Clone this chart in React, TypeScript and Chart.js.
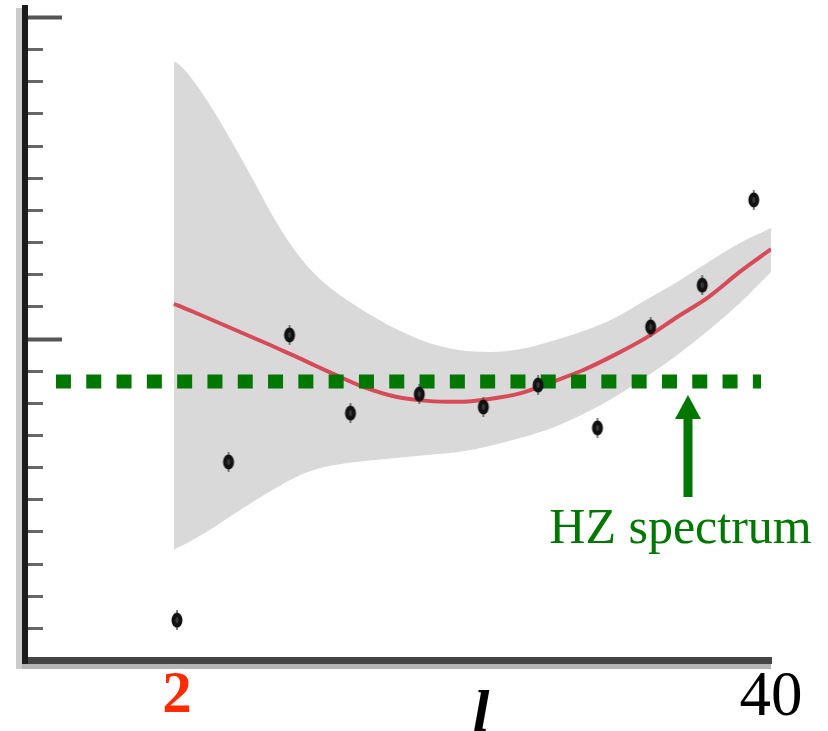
import React, { useEffect, useRef } from 'react';
import { Chart, registerables } from 'chart.js';

Chart.register(...registerables);

// multipole l positions where the band / fit curve were read
const bandL = [1.8, 2, 2.5, 3, 4, 5, 6, 7, 8, 9, 10, 11, 12, 14, 16, 18, 20, 22, 24, 26, 28, 30, 32, 34, 36, 38, 40];
// grey uncertainty band (upper / lower edge), in axis units
const bandUpper = [18.6, 18.57, 18.35, 18.05, 17.35, 16.55, 15.7, 14.82, 13.92, 13.12, 12.45, 11.92, 11.5, 10.85, 10.3, 9.88, 9.64, 9.58, 9.67, 9.92, 10.23, 10.64, 11.2, 11.76, 12.38, 12.97, 13.44];
const bandLower = [3.42, 3.48, 3.6, 3.73, 4.01, 4.33, 4.65, 4.96, 5.26, 5.54, 5.78, 5.95, 6.06, 6.19, 6.28, 6.38, 6.47, 6.66, 6.91, 7.22, 7.65, 8.18, 8.8, 9.49, 10.26, 11.1, 12.07];
// red best-fit curve
const fitCurve = [11.07, 11.04, 10.94, 10.84, 10.63, 10.42, 10.21, 10.0, 9.79, 9.57, 9.35, 9.12, 8.9, 8.48, 8.19, 8.06, 8.03, 8.12, 8.3, 8.65, 9.02, 9.49, 10.02, 10.67, 11.29, 12.07, 12.78];
// black data points
const obsL = [2, 5.3, 9.2, 13.1, 17.5, 21.6, 25.1, 28.9, 32.3, 35.6, 38.9];
const obsV = [1.24, 6.16, 10.11, 7.68, 8.27, 7.87, 8.55, 7.22, 10.36, 11.66, 14.31];
// green dotted HZ spectrum level
const hzL = [-5.74, 39.36];
const hzV = [8.66, 8.66];
// axes
const xTickValues = [2, 40];
const xTickLabels = ['2', '40'];
const yTickValues = [1, 2, 3, 4, 5, 6, 7, 8, 9, 10, 11, 12, 13, 14, 15, 16, 17, 18, 19, 20];
const yMajorTicks = [10, 20];
const xAxisTitle = 'l';
const hzLabel = 'HZ spectrum';
// annotation anchors (data units)
const arrowL = 34.69;
const arrowTipV = 8.24;
const arrowTailV = 5.07;
const hzTextL = 34.21;
const hzTextV = 3.64;
const titleL = 21.45;

const SERIF = '"Liberation Serif", "Times New Roman", serif';
const GREEN = '#007700';

export default function App() {
  const ref = useRef<HTMLCanvasElement>(null);

  useEffect(() => {
    const canvas = ref.current;
    if (!canvas) return;

    const dot = document.createElement('canvas');
    dot.width = 14;
    dot.height = 20;
    const d = dot.getContext('2d')!;
    d.fillStyle = 'rgba(80,80,80,0.7)';
    d.fillRect(6, 0, 2, 20);
    d.beginPath();
    d.ellipse(7, 10, 5.5, 7.5, 0, 0, Math.PI * 2);
    d.fillStyle = '#111';
    d.fill();
    d.beginPath();
    d.ellipse(7, 10, 1.6, 3, 0, 0, Math.PI * 2);
    d.fillStyle = '#3a3a3a';
    d.fill();

    const annot = {
      id: 'annot',
      beforeDraw(chart: any) {
        const { ctx, chartArea } = chart;
        ctx.save();
        ctx.fillStyle = '#cccccc';
        ctx.fillRect(chartArea.left - 9, chartArea.top, 6, chartArea.bottom + 9 - chartArea.top);
        ctx.fillStyle = '#b4b4b4';
        ctx.fillRect(chartArea.left - 3, chartArea.bottom + 3, chartArea.right - chartArea.left + 3, 6);
        ctx.restore();
      },
      afterDraw(chart: any) {
        const { ctx, chartArea, scales } = chart;
        const xs = scales.x;
        const ys = scales.y;
        ctx.save();
        // y axis corner
        ctx.fillStyle = '#1c1c1c';
        ctx.fillRect(chartArea.left - 3, chartArea.bottom - 1, 6, 5);
        // inward y ticks
        yTickValues.forEach((v) => {
          const py = Math.round(ys.getPixelForValue(v)) + 0.5;
          const major = yMajorTicks.includes(v);
          ctx.strokeStyle = major ? '#555' : '#666';
          ctx.lineWidth = major ? 4 : 3;
          ctx.beginPath();
          ctx.moveTo(chartArea.left + 3, py);
          ctx.lineTo(chartArea.left + (major ? 37 : 18), py);
          ctx.stroke();
        });
        // arrow
        const ax = xs.getPixelForValue(arrowL);
        const tip = ys.getPixelForValue(arrowTipV);
        const tail = ys.getPixelForValue(arrowTailV);
        ctx.fillStyle = GREEN;
        ctx.fillRect(ax - 4.5, tip + 20, 9, tail - tip - 20);
        ctx.beginPath();
        ctx.moveTo(ax, tip);
        ctx.lineTo(ax - 13, tip + 24);
        ctx.lineTo(ax + 13, tip + 24);
        ctx.closePath();
        ctx.fill();
        // HZ spectrum label
        ctx.font = `50px ${SERIF}`;
        ctx.textAlign = 'center';
        ctx.textBaseline = 'alphabetic';
        ctx.fillText(hzLabel, xs.getPixelForValue(hzTextL), ys.getPixelForValue(hzTextV));
        // x axis title
        ctx.fillStyle = '#000';
        ctx.font = `italic bold 60px ${SERIF}`;
        ctx.fillText(xAxisTitle, xs.getPixelForValue(titleL), xs.bottom);
        ctx.restore();
      },
    };

    const pts = (xsArr: number[], ysArr: number[]) => xsArr.map((x, i) => ({ x, y: ysArr[i] }));

    const chart = new Chart(canvas, {
      type: 'line',
      data: {
        datasets: [
          {
            label: 'data',
            data: pts(obsL, obsV),
            showLine: false,
            pointStyle: dot as any,
            pointRadius: 7,
            order: 0,
          },
          {
            label: 'HZ spectrum',
            data: pts(hzL, hzV),
            borderColor: GREEN,
            borderWidth: 14,
            borderDash: [15, 15.3],
            borderCapStyle: 'butt',
            pointRadius: 0,
            fill: false,
            order: 1,
          },
          {
            label: 'fit',
            data: pts(bandL, fitCurve),
            borderColor: 'rgba(214,58,72,0.9)',
            borderWidth: 4,
            pointRadius: 0,
            cubicInterpolationMode: 'monotone',
            fill: false,
            order: 2,
          },
          {
            label: 'band upper',
            data: pts(bandL, bandUpper),
            borderColor: 'rgba(0,0,0,0)',
            backgroundColor: '#d9d9d9',
            pointRadius: 0,
            cubicInterpolationMode: 'monotone',
            fill: '+1',
            order: 3,
          },
          {
            label: 'band lower',
            data: pts(bandL, bandLower),
            borderColor: 'rgba(0,0,0,0)',
            pointRadius: 0,
            cubicInterpolationMode: 'monotone',
            fill: false,
            order: 4,
          },
        ],
      },
      options: {
        responsive: true,
        maintainAspectRatio: false,
        animation: false,
        layout: { padding: { top: 8, right: 57, bottom: 0, left: 0 } },
        plugins: { legend: { display: false }, tooltip: { enabled: false } },
        scales: {
          x: {
            type: 'linear',
            min: -7.72,
            max: 40,
            bounds: 'data',
            afterBuildTicks: (s: any) => {
              s.ticks = xTickValues.map((v) => ({ value: v }));
            },
            afterFit: (s: any) => {
              s.height = 71;
            },
            grid: { display: false, drawTicks: false },
            border: { display: true, color: '#444', width: 7 },
            ticks: {
              autoSkip: false,
              maxRotation: 0,
              padding: 7,
              callback: (_v: any, i: number) => xTickLabels[i],
              color: (c: any) => (c.index === 0 ? '#ff2a00' : '#000'),
              font: (c: any) =>
                c.index === 0
                  ? { family: SERIF, size: 59, weight: 'bold', lineHeight: 1 }
                  : { family: SERIF, size: 63, lineHeight: 1 },
            },
          },
          y: {
            type: 'linear',
            min: 0,
            max: 20.28,
            bounds: 'data',
            afterFit: (s: any) => {
              s.width = 25;
            },
            grid: { display: false, drawTicks: false },
            border: { display: true, color: '#1c1c1c', width: 6 },
            ticks: { display: false },
          },
        },
      },
      plugins: [annot],
    } as any);

    return () => chart.destroy();
  }, []);

  return (
    <div style={{ position: 'fixed', left: 0, top: 0, width: 828, height: 731, background: '#fff' }}>
      <canvas ref={ref} />
    </div>
  );
}
